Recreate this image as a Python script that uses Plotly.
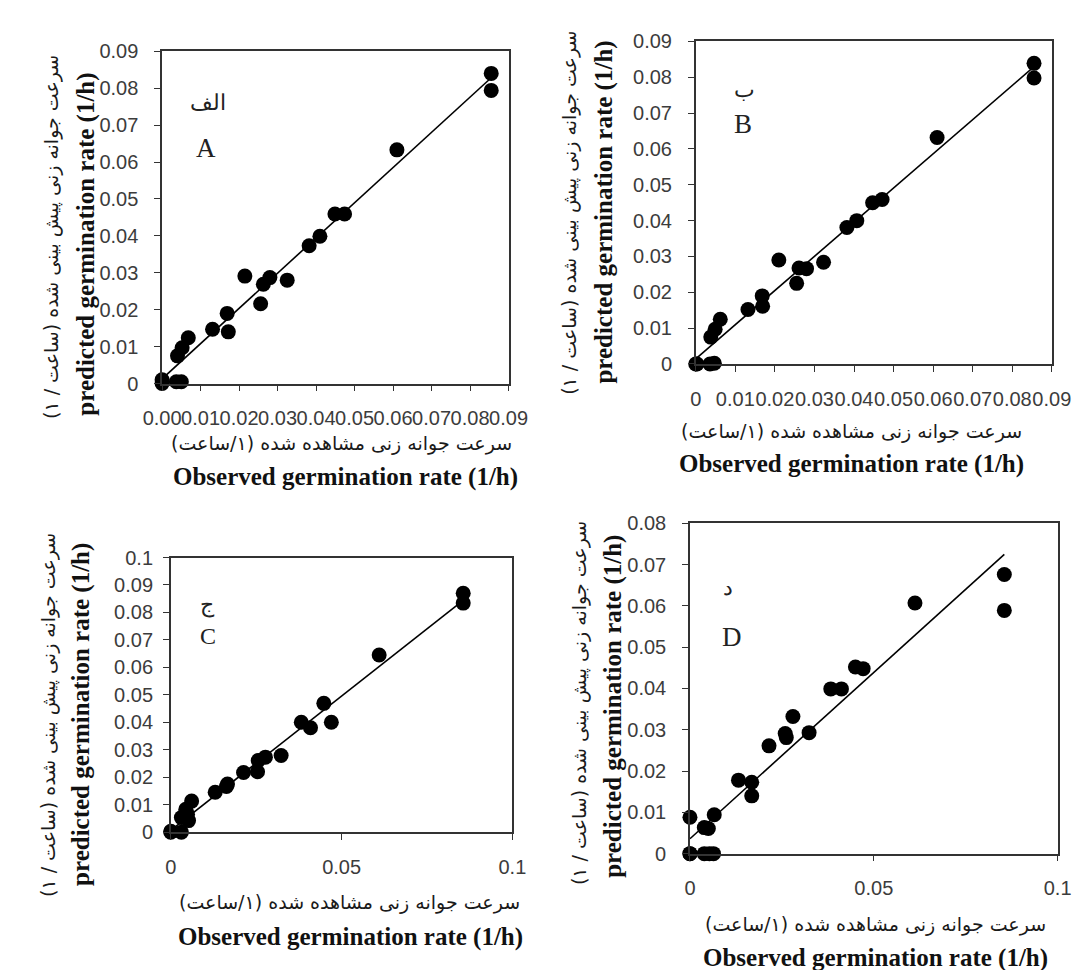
import numpy as np
import plotly.graph_objects as go

W, H = 1086, 970

# ---------------- data ----------------
# Panel A (الف)
a_obs = [0.0, 0.0, 0.0037, 0.0050, 0.0040, 0.0052, 0.0068, 0.0131, 0.0169, 0.0172, 0.0215,
         0.0256, 0.0263, 0.0280, 0.0325, 0.0382, 0.0410, 0.0449, 0.0474, 0.0610, 0.0855, 0.0855]
a_pred = [0.0, 0.0010, 0.0005, 0.0005, 0.0075, 0.0097, 0.0124, 0.0147, 0.0190, 0.0140, 0.0291,
          0.0216, 0.0269, 0.0287, 0.0280, 0.0373, 0.0399, 0.0459, 0.0459, 0.0633, 0.0840, 0.0794]

# Panel B (ب)
b_obs = [0.0, 0.0003, 0.0036, 0.0047, 0.0038, 0.0049, 0.0062, 0.0132, 0.0168, 0.0169, 0.0210,
         0.0255, 0.0261, 0.0280, 0.0323, 0.0382, 0.0407, 0.0447, 0.0471, 0.0610, 0.0855, 0.0855]
b_pred = [0.0, 0.0, 0.0, 0.0002, 0.0075, 0.0097, 0.0125, 0.0152, 0.0190, 0.0161, 0.0290,
          0.0225, 0.0268, 0.0266, 0.0284, 0.0381, 0.0400, 0.0450, 0.0459, 0.0632, 0.0839, 0.0798]

# Panel C (ج)
c_obs = [0.0, 0.0, 0.0031, 0.0031, 0.0044, 0.0052, 0.0049, 0.0061, 0.0130, 0.0163, 0.0166,
         0.0213, 0.0254, 0.0256, 0.0277, 0.0323, 0.0382, 0.0409, 0.0448, 0.0470, 0.0610, 0.0856, 0.0856]
c_pred = [0.0, 0.0003, 0.0, 0.0053, 0.0083, 0.0042, 0.0065, 0.0113, 0.0145, 0.0166, 0.0175,
          0.0217, 0.0220, 0.0261, 0.0273, 0.0279, 0.0400, 0.0380, 0.0469, 0.0400, 0.0645, 0.0870, 0.0834]

# Panel D (د)
d_obs = [0.0, 0.0, 0.0, 0.0039, 0.0053, 0.0064, 0.0039, 0.0050, 0.0066, 0.0132, 0.0168, 0.0168,
         0.0215, 0.0259, 0.0262, 0.0280, 0.0324, 0.0383, 0.0412, 0.0450, 0.0471, 0.0612, 0.0855, 0.0855]
d_pred = [0.0, 0.0, 0.0088, 0.0, 0.0, 0.0, 0.0063, 0.0061, 0.0094, 0.0178, 0.0173, 0.0140,
          0.0261, 0.0291, 0.0281, 0.0332, 0.0293, 0.0399, 0.0399, 0.0452, 0.0448, 0.0607, 0.0676, 0.0589]

# tick values / labels
ab_ticks = [0, 0.01, 0.02, 0.03, 0.04, 0.05, 0.06, 0.07, 0.08, 0.09]
a_xlabels = ["0.00", "0.01", "0.02", "0.03", "0.04", "0.05", "0.06", "0.07", "0.08", "0.09"]
ab_ylabels = ["0", "0.01", "0.02", "0.03", "0.04", "0.05", "0.06", "0.07", "0.08", "0.09"]
b_xlabels = ["0", "0.01", "0.02", "0.03", "0.04", "0.05", "0.06", "0.07", "0.08", "0.09"]
c_yticks = [0, 0.01, 0.02, 0.03, 0.04, 0.05, 0.06, 0.07, 0.08, 0.09, 0.1]
c_ylabels = ["0", "0.01", "0.02", "0.03", "0.04", "0.05", "0.06", "0.07", "0.08", "0.09", "0.1"]
d_yticks = [0, 0.01, 0.02, 0.03, 0.04, 0.05, 0.06, 0.07, 0.08]
d_ylabels = ["0", "0.01", "0.02", "0.03", "0.04", "0.05", "0.06", "0.07", "0.08"]
cd_xticks = [0, 0.05, 0.1]
cd_xlabels = ["0", "0.05", "0.1"]

label_fa = ["الف", "ب", "ج", "د"]
label_en = ["A", "B", "C", "D"]

RLM = "\u200f"
ytitle_fa = RLM + "سرعت جوانه زنی پیش بینی شده (ساعت / ۱)" + RLM
xtitle_fa = RLM + "سرعت جوانه زنی مشاهده شده (۱/ساعت)" + RLM
ytitle_en = "predicted germination rate (1/h)"
xtitle_en = "Observed germination rate (1/h)"

# ---------------- layout helpers ----------------
def px(x):
    return x / W

def py(y):
    return 1 - y / H

# plot box pixel positions: (left, right, top, bottom)
boxes = [(140, 499, 33, 373), (693, 1062, 23, 353), (149, 503, 551, 832), (687, 1068, 516, 854)]

panels = [
    dict(obs=a_obs, pred=a_pred, xr=[0, 0.09], yr=[0, 0.09], xt=ab_ticks, xl=a_xlabels, yt=ab_ticks, yl=ab_ylabels),
    dict(obs=b_obs, pred=b_pred, xr=[0, 0.09], yr=[0, 0.09], xt=ab_ticks, xl=b_xlabels, yt=ab_ticks, yl=ab_ylabels),
    dict(obs=c_obs, pred=c_pred, xr=[0, 0.1], yr=[0, 0.1], xt=cd_xticks, xl=cd_xlabels, yt=c_yticks, yl=c_ylabels),
    dict(obs=d_obs, pred=d_pred, xr=[0, 0.1], yr=[0, 0.08], xt=cd_xticks, xl=cd_xlabels, yt=d_yticks, yl=d_ylabels),
]

# text positions (pixels)
ytitle_fa_pos = [(26, 223), (562, 198), (23, 712), (572, 700)]
ytitle_en_pos = [(61, 230), (597, 198), (56, 712), (607, 703)]
xtitle_fa_pos = [(326, 434), (854, 422), (334, 904), (879, 927)]
xtitle_en_pos = [(330, 469), (854, 455), (335, 939), (879, 961)]
lab_fa_pos = [(188, 85), (743, 72), (187, 600), (726, 582)]
lab_en_pos = [(186, 132), (742, 107), (188, 631), (731, 632)]
lab_en_size = [27, 27, 24, 27]
ystandoff = [12, 12, 6, 12]

fig = go.Figure()
annotations = []
tick_font = dict(family="Liberation Sans", size=20, color="#3c3c3c")

for i, p in enumerate(panels):
    n = "" if i == 0 else str(i + 1)
    xa, ya = "x" + n, "y" + n
    obs = np.array(p["obs"])
    pred = np.array(p["pred"])
    slope, icpt = np.polyfit(obs, pred, 1)
    fx = np.array([obs.min(), obs.max()])
    fy = icpt + slope * fx
    fig.add_trace(go.Scatter(x=fx, y=fy, mode="lines", line=dict(color="black", width=1.6),
                             xaxis=xa, yaxis=ya, showlegend=False, hoverinfo="skip", cliponaxis=False))
    fig.add_trace(go.Scatter(x=obs, y=pred, mode="markers",
                             marker=dict(color="black", size=15, line=dict(width=0)),
                             xaxis=xa, yaxis=ya, showlegend=False, cliponaxis=False))
    l, r, t, b = boxes[i]
    common = dict(showline=True, linecolor="#333333", linewidth=1.5, mirror=True,
                  ticks="outside", ticklen=6, tickwidth=1.3, tickcolor="#333333",
                  showgrid=False, zeroline=False, tickfont=tick_font, tickangle=0)
    fig.update_layout(**{
        ("xaxis" + n): dict(domain=[px(l), px(r)], anchor=ya, range=p["xr"], tickvals=p["xt"],
                            ticktext=p["xl"], ticklabelstandoff=10, **common),
        ("yaxis" + n): dict(domain=[py(b), py(t)], anchor=xa, range=p["yr"], tickvals=p["yt"],
                            ticktext=p["yl"], ticklabelstandoff=ystandoff[i], **common),
    })
    # axis titles
    annotations.append(dict(text=ytitle_fa, x=px(ytitle_fa_pos[i][0]), y=py(ytitle_fa_pos[i][1]),
                            textangle=-90, font=dict(family="DejaVu Sans", size=19, color="#1a1a1a")))
    annotations.append(dict(text="<b>" + ytitle_en + "</b>", x=px(ytitle_en_pos[i][0]), y=py(ytitle_en_pos[i][1]),
                            textangle=-90, font=dict(family="Liberation Serif", size=25, color="#111")))
    annotations.append(dict(text=xtitle_fa, x=px(xtitle_fa_pos[i][0]), y=py(xtitle_fa_pos[i][1]),
                            font=dict(family="DejaVu Sans", size=19, color="#1a1a1a")))
    annotations.append(dict(text="<b>" + xtitle_en + "</b>", x=px(xtitle_en_pos[i][0]), y=py(xtitle_en_pos[i][1]),
                            font=dict(family="Liberation Serif", size=25, color="#111")))
    annotations.append(dict(text=label_fa[i], x=px(lab_fa_pos[i][0]), y=py(lab_fa_pos[i][1]),
                            font=dict(family="DejaVu Serif", size=22, color="#222")))
    annotations.append(dict(text=label_en[i], x=px(lab_en_pos[i][0]), y=py(lab_en_pos[i][1]),
                            font=dict(family="Liberation Serif", size=lab_en_size[i], color="#222")))

for a in annotations:
    a.update(xref="paper", yref="paper", showarrow=False, xanchor="center", yanchor="middle")

fig.update_layout(width=W, height=H, margin=dict(l=0, r=0, t=0, b=0),
                  paper_bgcolor="white", plot_bgcolor="white", annotations=annotations)

fig.write_html("out.html")
